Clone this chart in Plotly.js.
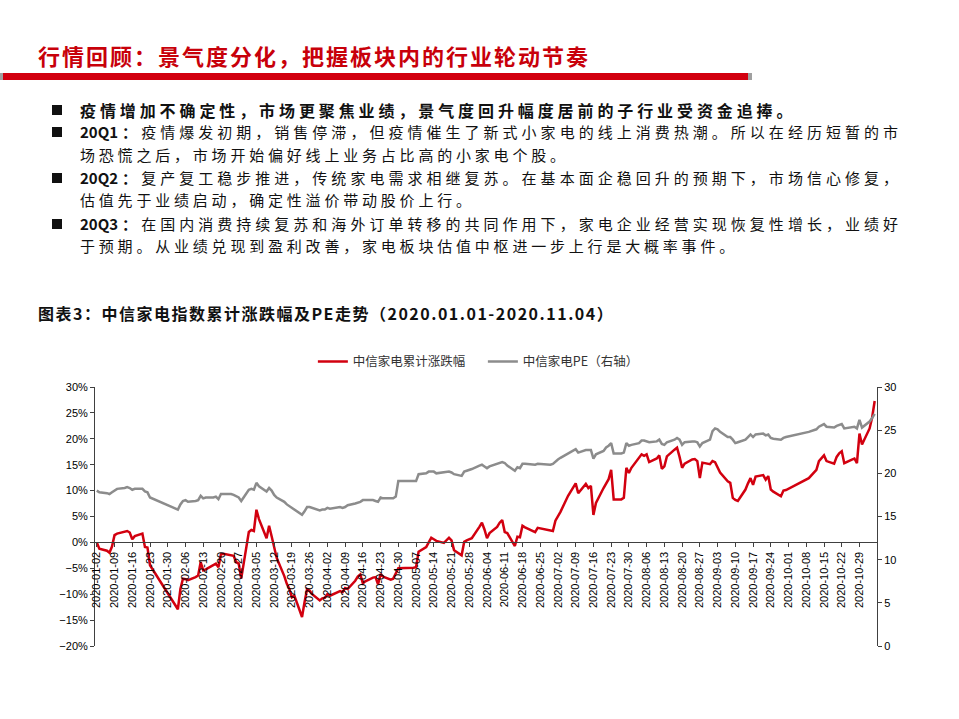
<!DOCTYPE html>
<html>
<head>
<meta charset="utf-8">
<script src="https://cdn.plot.ly/plotly-3.0.1.min.js"></script>
<style>
  body { margin: 0; width: 959px; height: 719px; position: relative; background: #fff;
         font-family: "Noto Sans CJK SC", sans-serif; overflow: hidden; }
  #title { position: absolute; left: 38px; top: 40px; font-size: 22px; font-weight: bold;
           color: #C8000A; letter-spacing: 2px; line-height: 30px; white-space: nowrap; }
  #bar { position: absolute; left: 0; top: 73px; width: 752px; height: 7px;
         background: linear-gradient(to right, #a0a0a0 0, #a0a0a0 3px, #D2000F 3px, #D2000F 748px, #a0a0a0 748px); }
  .sq { position: absolute; left: 52px; width: 10px; height: 10px; background: #111; }
  .ln { position: absolute; left: 80px; width: 818px; font-size: 15px; line-height: 22px;
        letter-spacing: 3.8px; color: #111; white-space: nowrap; }
  .full { letter-spacing: 0; text-align: justify; text-align-last: justify; text-justify: inter-character; }
  .b { font-weight: bold; }
  .lead { font-size: 16px; letter-spacing: 3.9px; }
  #ctitle { position: absolute; left: 38px; top: 301px; font-size: 16px; font-weight: bold;
            letter-spacing: 1.5px; line-height: 24px; color: #111; white-space: nowrap; }
  #chart { position: absolute; left: 0; top: 340px; width: 959px; height: 379px; }
</style>
</head>
<body>
<div id="title">行情回顾：景气度分化，把握板块内的行业轮动节奏</div>
<div id="bar"></div>

<div class="sq" style="top:105px"></div>
<div class="ln b lead" style="top:99px">疫情增加不确定性，市场更聚焦业绩，景气度回升幅度居前的子行业受资金追捧。</div>
<div class="sq" style="top:127px"></div>
<div class="ln full" style="top:121px"><span class="b">20Q1：</span>疫情爆发初期，销售停滞，但疫情催生了新式小家电的线上消费热潮。所以在经历短暂的市</div>
<div class="ln" style="top:144px">场恐慌之后，市场开始偏好线上业务占比高的小家电个股。</div>
<div class="sq" style="top:173px"></div>
<div class="ln full" style="top:167px"><span class="b">20Q2：</span>复产复工稳步推进，传统家电需求相继复苏。在基本面企稳回升的预期下，市场信心修复，</div>
<div class="ln" style="top:189px">估值先于业绩启动，确定性溢价带动股价上行。</div>
<div class="sq" style="top:219px"></div>
<div class="ln full" style="top:213px"><span class="b">20Q3：</span>在国内消费持续复苏和海外订单转移的共同作用下，家电企业经营实现恢复性增长，业绩好</div>
<div class="ln" style="top:235px">于预期。从业绩兑现到盈利改善，家电板块估值中枢进一步上行是大概率事件。</div>

<div id="ctitle">图表3：中信家电指数累计涨跌幅及PE走势（2020.01.01-2020.11.04）</div>
<div id="chart"></div>

<script>
// trading days
const dates = [
  '2020-01-02','2020-01-03','2020-01-06','2020-01-07','2020-01-08','2020-01-09','2020-01-10',
  '2020-01-13','2020-01-14','2020-01-15','2020-01-16','2020-01-17','2020-01-20','2020-01-21',
  '2020-01-22','2020-01-23','2020-02-03','2020-02-04','2020-02-05','2020-02-06','2020-02-07',
  '2020-02-10','2020-02-11','2020-02-12','2020-02-13','2020-02-14','2020-02-17','2020-02-18',
  '2020-02-19','2020-02-20','2020-02-21','2020-02-24','2020-02-25','2020-02-26','2020-02-27',
  '2020-02-28','2020-03-02','2020-03-03','2020-03-04','2020-03-05','2020-03-06','2020-03-09',
  '2020-03-10','2020-03-11','2020-03-12','2020-03-13','2020-03-16','2020-03-17','2020-03-18',
  '2020-03-19','2020-03-20','2020-03-23','2020-03-24','2020-03-25','2020-03-26','2020-03-27',
  '2020-03-30','2020-03-31','2020-04-01','2020-04-02','2020-04-03','2020-04-07','2020-04-08',
  '2020-04-09','2020-04-10','2020-04-13','2020-04-14','2020-04-15','2020-04-16','2020-04-17',
  '2020-04-20','2020-04-21','2020-04-22','2020-04-23','2020-04-24','2020-04-27','2020-04-28',
  '2020-04-29','2020-04-30','2020-05-06','2020-05-07','2020-05-08','2020-05-11','2020-05-12',
  '2020-05-13','2020-05-14','2020-05-15','2020-05-18','2020-05-19','2020-05-20','2020-05-21',
  '2020-05-22','2020-05-25','2020-05-26','2020-05-27','2020-05-28','2020-05-29','2020-06-01',
  '2020-06-02','2020-06-03','2020-06-04','2020-06-05','2020-06-08','2020-06-09','2020-06-10',
  '2020-06-11','2020-06-12','2020-06-15','2020-06-16','2020-06-17','2020-06-18','2020-06-19',
  '2020-06-22','2020-06-23','2020-06-24','2020-06-29','2020-06-30','2020-07-01','2020-07-02',
  '2020-07-03','2020-07-06','2020-07-07','2020-07-08','2020-07-09','2020-07-10','2020-07-13',
  '2020-07-14','2020-07-15','2020-07-16','2020-07-17','2020-07-20','2020-07-21','2020-07-22',
  '2020-07-23','2020-07-24','2020-07-27','2020-07-28','2020-07-29','2020-07-30','2020-07-31',
  '2020-08-03','2020-08-04','2020-08-05','2020-08-06','2020-08-07','2020-08-10','2020-08-11',
  '2020-08-12','2020-08-13','2020-08-14','2020-08-17','2020-08-18','2020-08-19','2020-08-20',
  '2020-08-21','2020-08-24','2020-08-25','2020-08-26','2020-08-27','2020-08-28','2020-08-31',
  '2020-09-01','2020-09-02','2020-09-03','2020-09-04','2020-09-07','2020-09-08','2020-09-09',
  '2020-09-10','2020-09-11','2020-09-14','2020-09-15','2020-09-16','2020-09-17','2020-09-18',
  '2020-09-21','2020-09-22','2020-09-23','2020-09-24','2020-09-25','2020-09-28','2020-09-29',
  '2020-09-30','2020-10-09','2020-10-12','2020-10-13','2020-10-14','2020-10-15','2020-10-16',
  '2020-10-19','2020-10-20','2020-10-21','2020-10-22','2020-10-23','2020-10-26','2020-10-27',
  '2020-10-28','2020-10-29','2020-10-30','2020-11-02','2020-11-03','2020-11-04'
];

// 中信家电累计涨跌幅 (%)
const changePct = [
  0.0, -1.2, -1.6, -2.0, -0.8, 1.4, 1.7,
  2.0, 2.2, 1.9, 0.6, 1.2, 1.7, -0.9,
  -1.0, -4.4, -12.9, -9.0, -7.0, -7.1, -7.3,
  -6.7, -6.4, -3.8, -5.4, -5.2, -4.3, -4.1,
  -4.8, -2.3, -2.2, -2.4, -2.6, -3.8, -4.1,
  -7.0, 2.0, 2.4, 2.2, 6.3, 4.5, 0.8,
  3.2, 1.2, -0.8, -3.0, -6.5, -8.0, -9.0,
  -10.6, -10.3, -14.4, -11.5, -9.0, -9.3, -10.0,
  -11.2, -10.8, -10.7, -10.0, -10.3, -9.4, -9.6,
  -8.8, -9.0, -7.4, -6.6, -6.2, -7.9, -7.5,
  -6.8, -6.7, -8.1, -6.1, -6.6, -7.2, -7.0,
  -6.0, -5.0, -4.9, -4.8, -1.8, -0.9, 0.0,
  0.9, 0.6, 0.3, -0.1, 0.4, 0.9, 0.4,
  -1.5, -2.5, 0.1, 0.4, 0.6, 0.8, 3.0,
  3.8, 2.5, 0.8, 1.8, 3.0, 3.8, 4.3,
  2.0, 1.8, -0.7, 1.1, 1.0, 3.2, 2.9,
  2.2, 2.0, 2.8, 2.3, 2.2, 4.2, 5.0,
  5.9, 9.0, 9.8, 10.5, 11.4, 9.5, 11.3,
  10.5, 10.9, 5.3, 7.6, 10.5, 11.5, 12.2,
  14.0, 8.3, 8.3, 8.6, 14.4, 13.4, 14.4,
  16.3, 17.0, 16.7, 17.0, 15.5, 16.2, 16.8,
  14.2, 14.7, 16.6, 17.9, 18.3, 16.5, 14.4,
  15.2, 16.0, 16.1, 15.7, 12.4, 15.4, 15.1,
  15.7, 15.5, 14.5, 13.5, 11.8, 11.5, 8.6,
  8.2, 8.0, 10.2, 11.4, 12.4, 11.1, 12.7,
  13.0, 12.1, 12.8, 10.2, 9.8, 8.9, 10.0,
  10.1, 12.4, 14.0, 15.7, 16.3, 16.8, 15.7,
  15.2, 16.5, 17.2, 17.6, 15.3, 16.0, 16.2,
  15.3, 21.0, 18.9, 22.0, 24.1, 27.3
];

// 中信家电PE (右轴)
const peValues = [
  18.0, 17.8, 17.7, 17.6, 17.8, 18.0, 18.2,
  18.3, 18.4, 18.3, 18.1, 18.2, 18.2, 17.9,
  17.8, 17.2, 15.8, 16.4, 16.8, 16.9, 16.7,
  16.8, 16.9, 17.4, 17.1, 17.2, 17.2, 17.3,
  17.0, 17.6, 17.6, 17.6, 17.5, 17.3, 17.2,
  16.8, 18.1, 18.2, 18.1, 18.9, 18.5, 17.9,
  18.3, 18.0, 17.5, 17.2, 16.7, 16.4, 16.2,
  16.0, 15.9, 15.2, 15.6, 16.1, 16.1, 16.0,
  15.7, 15.8, 15.8, 16.0, 15.9, 16.1, 16.0,
  16.1, 16.3, 16.5, 16.6, 16.7, 16.9, 16.9,
  16.9, 16.8, 16.7, 17.2, 17.1, 17.1, 17.1,
  17.3, 19.1, 19.1, 19.1, 19.9, 20.0, 20.2,
  20.2, 20.2, 20.0, 20.1, 20.2, 20.2, 20.1,
  19.9, 19.7, 20.2, 20.3, 20.4, 20.5, 20.9,
  21.0, 20.8, 20.6, 20.8, 21.1, 21.2, 21.3,
  21.2, 20.9, 20.3, 20.7, 20.6, 21.1, 21.1,
  21.0, 21.0, 21.1, 21.0, 21.1, 21.4, 21.6,
  21.8, 22.3, 22.5, 22.6, 22.8, 22.4, 22.7,
  22.7, 22.7, 21.7, 22.2, 22.6, 23.0, 23.2,
  23.5, 22.3, 22.3, 22.4, 23.5, 23.2, 23.3,
  23.5, 23.8, 23.8, 23.7, 23.6, 23.7, 23.9,
  23.4, 23.3, 23.6, 23.9, 24.1, 23.9, 23.3,
  23.6, 23.7, 23.7, 23.6, 23.1, 23.5, 23.9,
  24.9, 25.2, 25.1, 24.8, 24.2, 24.2, 23.9,
  23.5, 23.6, 23.9, 24.2, 24.5, 24.2, 24.5,
  24.6, 24.4, 24.5, 24.1, 24.0, 23.9, 24.1,
  24.2, 24.8, 25.1, 25.4, 25.6, 25.7, 25.4,
  25.3, 25.5, 25.6, 25.7, 25.2, 25.3, 25.4,
  25.2, 26.2, 25.3, 26.0, 26.4, 26.9
];

const tickFont = { family: 'Liberation Sans, Arial, sans-serif', size: 11, color: '#000' };
const axisColor = '#404040';

const data = [
  {
    x: dates, y: changePct, type: 'scatter', mode: 'lines',
    name: '中信家电累计涨跌幅',
    line: { color: '#D2000F', width: 2.5 }
  },
  {
    x: dates, y: peValues, type: 'scatter', mode: 'lines',
    name: '中信家电PE（右轴）', yaxis: 'y2',
    line: { color: '#8C8C8C', width: 2.5 }
  }
];

const layout = {
  width: 959, height: 379,
  margin: { l: 95, r: 82, t: 47, b: 73, autoexpand: false },
  paper_bgcolor: '#fff', plot_bgcolor: 'rgba(0,0,0,0)',
  showlegend: true,
  hovermode: false,
  legend: {
    orientation: 'h', x: 0.496, xanchor: 'center', y: 1.097, yanchor: 'middle',
    font: { family: 'Noto Sans CJK SC', size: 12.5, color: '#333' },
    itemwidth: 30, entrywidth: 125, traceorder: 'normal'
  },
  xaxis: {
    type: 'date',
    range: ['2020-01-01 07:00', '2020-11-04 22:00'],
    anchor: 'free', position: 0.4,
    tick0: '2020-01-02', dtick: 7 * 86400000,
    tickformat: '%Y-%m-%d', tickangle: -90,
    ticks: 'outside', ticklen: 4, tickcolor: axisColor,
    showline: true, linecolor: axisColor, linewidth: 1,
    showgrid: false, zeroline: false,
    tickfont: tickFont
  },
  yaxis: {
    range: [-20, 30], dtick: 5, ticksuffix: '%',
    ticks: 'outside', ticklen: 4, tickcolor: axisColor,
    showline: true, linecolor: axisColor, linewidth: 1,
    showgrid: false, zeroline: false,
    tickfont: tickFont
  },
  yaxis2: {
    overlaying: 'y', side: 'right', range: [0, 30], dtick: 5,
    ticks: 'outside', ticklen: 4, tickcolor: axisColor,
    showline: true, linecolor: axisColor, linewidth: 1,
    showgrid: false, zeroline: false,
    tickfont: tickFont
  }
};

Plotly.newPlot('chart', data, layout, { displayModeBar: false, staticPlot: true });
</script>
</body>
</html>
